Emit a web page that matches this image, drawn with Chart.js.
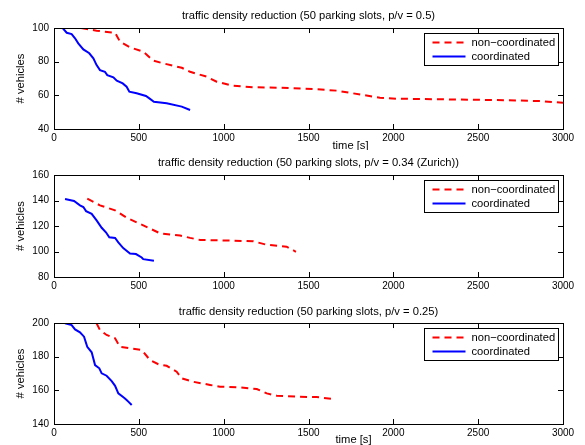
<!DOCTYPE html>
<html lang="en">
<head>
<meta charset="UTF-8">
<title>traffic density reduction</title>
<script src="https://cdn.jsdelivr.net/npm/chart.js@4.4.1/dist/chart.umd.min.js"></script>
<style>
  html, body { margin: 0; padding: 0; background: #fff; }
  #wrap { position: relative; width: 585px; height: 445px; overflow: hidden; }
  #wrap canvas { position: absolute; left: 0; }
</style>
</head>
<body>
<div id="wrap">
  <canvas id="chart-05" width="585" height="150" style="top:0"></canvas>
  <canvas id="chart-034" width="585" height="148" style="top:150px"></canvas>
  <canvas id="chart-025" width="585" height="147" style="top:298px"></canvas>
</div>

<script>
// p/v = 0.5
const p05NonCoordTime = [160, 251, 360, 389, 448, 526, 585, 644, 753, 802, 900, 959, 1057, 1175, 1332, 1410, 1548, 1666, 1823, 1921, 2020, 2314, 2609, 2864, 3000];
const p05NonCoordVeh  = [100, 98.4, 97.2, 91.9, 88.5, 86, 80.6, 79, 76.4, 74, 71.1, 68.1, 65.7, 64.8, 64.5, 64.2, 63.6, 62.8, 60.2, 58.6, 58, 57.6, 57.2, 56.6, 55.6];
const p05CoordTime = [51, 75, 104, 124, 143, 173, 208, 232, 251, 271, 300, 314, 350, 370, 405, 428, 444, 487, 542, 562, 589, 664, 753, 802];
const p05CoordVeh  = [100, 97.2, 96.4, 93.9, 90.9, 87.3, 85, 82, 78, 75, 74, 72, 70.7, 68.7, 67.1, 65.1, 62.2, 61.2, 59.6, 58.2, 56.2, 55.3, 53.3, 51.3];

// p/v = 0.34 (Zurich)
const p034NonCoordTime = [196, 271, 360, 428, 507, 556, 625, 743, 802, 861, 1057, 1175, 1254, 1371, 1426];
const p034NonCoordVeh  = [141.5, 136.2, 132.3, 126.5, 121.7, 118.6, 114.3, 112.5, 110.7, 109.1, 108.5, 108, 105.3, 103.8, 99.8];
const p034CoordTime = [65, 118, 153, 173, 189, 222, 251, 281, 306, 326, 360, 379, 408, 448, 483, 517, 526, 589];
const p034CoordVeh  = [141.2, 139.6, 136.2, 134.9, 131.7, 129.6, 124.4, 118.6, 115.1, 111.1, 110.6, 107.2, 102.7, 98.5, 98, 95.3, 94, 92.7];

// p/v = 0.25
const p025NonCoordTime = [251, 271, 310, 360, 389, 448, 517, 566, 615, 664, 723, 753, 821, 920, 978, 1096, 1195, 1254, 1313, 1450, 1548, 1646];
const p025NonCoordVeh  = [199.8, 195.8, 192.9, 190.9, 185.9, 185, 184, 178, 175.5, 174.6, 171.1, 167.1, 165.1, 163.2, 162.2, 161.8, 160.8, 158.2, 156.8, 156.2, 156, 154.9];
const p025CoordTime = [65, 104, 124, 153, 177, 196, 222, 242, 267, 281, 310, 340, 360, 379, 413, 428, 438, 458];
const p025CoordVeh  = [199.8, 198.8, 196.2, 194.5, 191.9, 185.9, 182.6, 175, 173.1, 170.1, 168.7, 165.5, 162.7, 158.2, 155.6, 154.3, 153.3, 151.3];

const legendLabels = ['non\u2212coordinated', 'coordinated'];
const timeRange = [0, 3000];
const timeStep = 500;
const vehStep = 20;

const FONT = '"Liberation Sans", Helvetica, Arial, sans-serif';
const LABEL_SIZE = 11.2;   // title, axis label, legend (matlab 1.1x)
Chart.defaults.font.family = FONT;
Chart.defaults.font.size = 10;
Chart.defaults.color = '#000';

function pts(ts, vs) {
    return ts.map((t, i) => ({x: t, y: vs[i]}));
}

// matlab style box, inward ticks on all sides, legend box and the xlabel
const matlabAxes = {
    id: 'matlabAxes',
    afterDatasetsDraw(chart, args, opts) {
        const {ctx, chartArea: a, scales: {x, y}} = chart;
        const tl = 5;
        ctx.save();
        ctx.strokeStyle = '#000';
        ctx.lineWidth = 1;
        ctx.setLineDash([]);
        ctx.beginPath();
        x.ticks.forEach(t => {
            const px = Math.round(x.getPixelForValue(t.value)) + 0.5;
            ctx.moveTo(px, a.top);
            ctx.lineTo(px, a.top + tl);
            ctx.moveTo(px, a.bottom);
            ctx.lineTo(px, a.bottom - tl);
        });
        y.ticks.forEach(t => {
            const py = Math.round(y.getPixelForValue(t.value)) + 0.5;
            ctx.moveTo(a.left, py);
            ctx.lineTo(a.left + tl, py);
            ctx.moveTo(a.right, py);
            ctx.lineTo(a.right - tl, py);
        });
        ctx.stroke();
        ctx.strokeRect(Math.round(a.left) + 0.5, Math.round(a.top) + 0.5, Math.round(a.width), Math.round(a.height));
        ctx.restore();
    },
    afterDraw(chart, args, opts) {
        const {ctx, chartArea: a} = chart;
        const sets = chart.data.datasets;
        ctx.save();
        ctx.font = LABEL_SIZE + 'px ' + FONT;
        ctx.textBaseline = 'middle';

        // legend
        const textW = Math.max(...sets.map(d => ctx.measureText(d.label).width));
        const w = Math.round(8 + 33 + 6 + textW + 3), h = 32;
        const bx = Math.round(a.right - 5 - w) + 0.5, by = Math.round(a.top + 5) + 0.5;
        ctx.fillStyle = '#fff';
        ctx.fillRect(bx, by, w, h);
        ctx.strokeStyle = '#000';
        ctx.lineWidth = 1;
        ctx.strokeRect(bx, by, w, h);
        sets.forEach((d, i) => {
            const cy = by + 9 + i * 14;
            ctx.strokeStyle = d.borderColor;
            ctx.lineWidth = d.borderWidth;
            ctx.setLineDash(d.borderDash || []);
            ctx.beginPath();
            ctx.moveTo(bx + 8, cy);
            ctx.lineTo(bx + 41, cy);
            ctx.stroke();
            ctx.setLineDash([]);
            ctx.fillStyle = '#000';
            ctx.textAlign = 'left';
            ctx.fillText(d.label, bx + 47, cy);
        });

        // xlabel
        if (opts.xLabel) {
            ctx.textAlign = 'center';
            ctx.fillStyle = '#000';
            ctx.fillText(opts.xLabel, (a.left + a.right) / 2 + opts.xLabelDx, a.bottom + opts.xLabelDy);
        }
        ctx.restore();
    }
};

function makePanel(id, title, titlePad, yMin, yMax, nonT, nonV, coT, coV, xlab) {
    return new Chart(document.getElementById(id), {
        type: 'line',
        data: {
            datasets: [
                {
                    label: legendLabels[0],
                    data: pts(nonT, nonV),
                    borderColor: '#ff0000',
                    borderWidth: 2,
                    borderDash: [7, 5],
                    pointRadius: 0,
                    tension: 0,
                    fill: false
                },
                {
                    label: legendLabels[1],
                    data: pts(coT, coV),
                    borderColor: '#0000ff',
                    borderWidth: 2,
                    pointRadius: 0,
                    tension: 0,
                    fill: false
                }
            ]
        },
        options: {
            responsive: false,
            animation: false,
            layout: { padding: { left: 0, right: 22, top: 0, bottom: 0 } },
            plugins: {
                legend: { display: false },
                tooltip: { enabled: false },
                title: {
                    display: true,
                    text: title,
                    fullSize: false,
                    color: '#000',
                    font: { size: LABEL_SIZE, weight: 'normal' },
                    padding: titlePad
                },
                matlabAxes: xlab
            },
            scales: {
                x: {
                    type: 'linear',
                    min: timeRange[0],
                    max: timeRange[1],
                    ticks: {
                        stepSize: timeStep, padding: 3, maxRotation: 0, autoSkip: false, color: '#000',
                        callback: v => String(v)
                    },
                    grid: { display: false, drawTicks: false },
                    border: { display: false },
                    afterFit(s) { s.height = 21; }
                },
                y: {
                    min: yMin,
                    max: yMax,
                    ticks: { stepSize: vehStep, padding: 5, color: '#000', callback: v => String(v) },
                    grid: { display: false, drawTicks: false },
                    border: { display: false },
                    title: {
                        display: true, text: '# vehicles', color: '#000',
                        font: { size: LABEL_SIZE }, padding: { top: 14.3, bottom: 0 }
                    },
                    afterFit(s) { s.width = 54; }
                }
            }
        },
        plugins: [matlabAxes]
    });
}

makePanel('chart-05', 'traffic density reduction (50 parking slots, p/v = 0.5)', { top: 8.8, bottom: 5.8 },
    40, 100, p05NonCoordTime, p05NonCoordVeh, p05CoordTime, p05CoordVeh,
    { xLabel: 'time [s]', xLabelDx: 42, xLabelDy: 17 });
makePanel('chart-034', 'traffic density reduction (50 parking slots, p/v = 0.34 (Zurich))', { top: 6.3, bottom: 5.3 },
    80, 160, p034NonCoordTime, p034NonCoordVeh, p034CoordTime, p034CoordVeh,
    { xLabel: null });
makePanel('chart-025', 'traffic density reduction (50 parking slots, p/v = 0.25)', { top: 7.3, bottom: 4.3 },
    140, 200, p025NonCoordTime, p025NonCoordVeh, p025CoordTime, p025CoordVeh,
    { xLabel: 'time [s]', xLabelDx: 45, xLabelDy: 16 });
</script>
</body>
</html>
